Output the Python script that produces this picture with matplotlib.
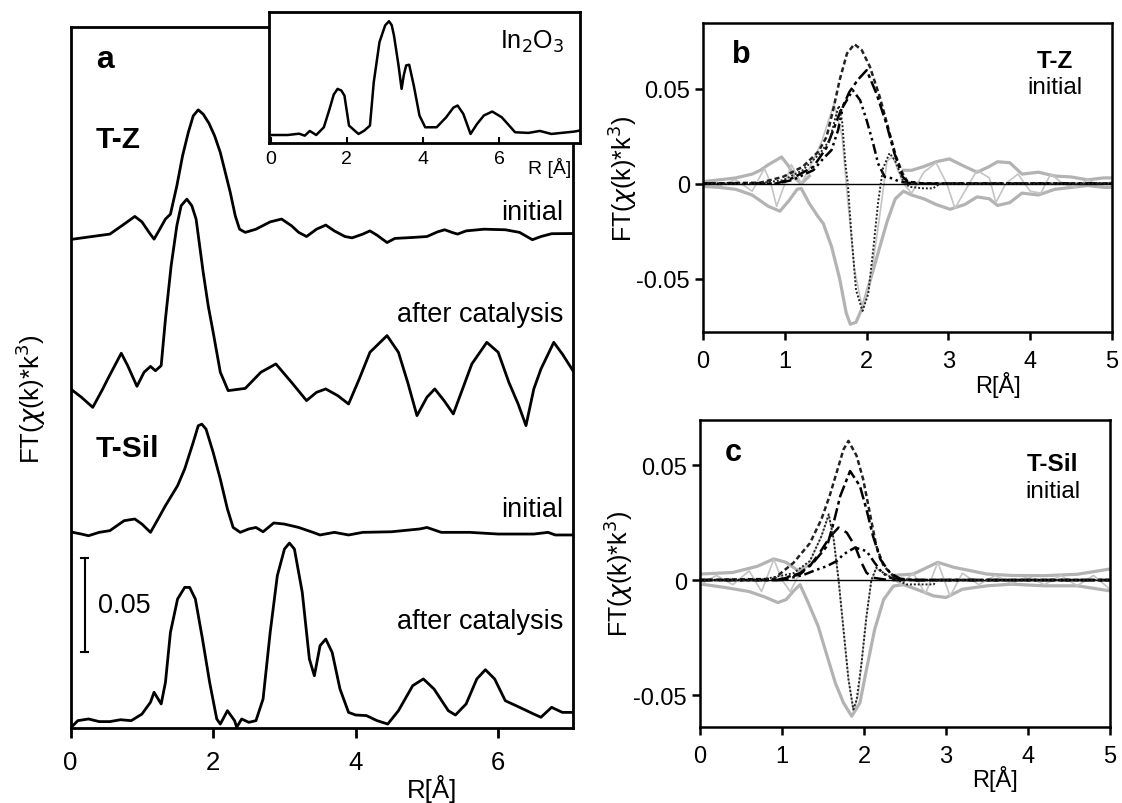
import numpy as np
import matplotlib
matplotlib.use("Agg")
import matplotlib.pyplot as plt

plt.rcParams['font.family'] = ['Liberation Sans', 'DejaVu Sans']

# ---- panel a: FT magnitudes (values relative to each trace's baseline) ----
tz_init_r = [0.03, 0.3, 0.55, 0.75, 0.9, 1.0, 1.1, 1.17, 1.25, 1.33, 1.4, 1.49, 1.57, 1.65, 1.72, 1.79,
             1.86, 1.94, 2.02, 2.1, 2.17, 2.24, 2.31, 2.37, 2.45, 2.6, 2.8, 2.96, 3.1, 3.2, 3.31, 3.45,
             3.58, 3.7, 3.85, 3.95, 4.1, 4.2, 4.3, 4.44, 4.55, 4.8, 5.0, 5.15, 5.25, 5.35, 5.43, 5.55,
             5.8, 6.1, 6.3, 6.48, 6.6, 6.75, 7.05]
tz_init = [-0.0009, 0.0005, 0.0018, 0.0071, 0.0112, 0.0083, 0.0027, -0.0009, 0.0044, 0.0098, 0.0124,
           0.0275, 0.0434, 0.0558, 0.0647, 0.0679, 0.0656, 0.0608, 0.0541, 0.0452, 0.0346, 0.0239,
           0.0115, 0.0044, 0.0027, 0.0044, 0.0083, 0.0098, 0.0062, 0.0027, 0.0005, 0.0044, 0.0066,
           0.0035, 0.0005, -0.0002, 0.0018, 0.0035, 0.0012, -0.0027, -0.0005, 0.0, 0.0005, 0.0030,
           0.0041, 0.0027, 0.0018, 0.0035, 0.0044, 0.0041, 0.0027, -0.0012, 0.0005, 0.0020, 0.0021]

tz_cat_r = [0.03, 0.15, 0.31, 0.45, 0.52, 0.71, 0.8, 0.93, 1.03, 1.12, 1.19, 1.27, 1.33, 1.41, 1.49,
            1.55, 1.63, 1.7, 1.76, 1.86, 1.93, 2.0, 2.1, 2.21, 2.45, 2.67, 2.88, 3.1, 3.31, 3.45, 3.58,
            3.75, 3.9, 4.05, 4.2, 4.44, 4.6, 4.73, 4.86, 5.0, 5.11, 5.24, 5.37, 5.5, 5.63, 5.84, 6.0,
            6.15, 6.28, 6.39, 6.5, 6.6, 6.78, 6.9, 7.05]
tz_cat = [0.0, -0.0035, -0.0089, 0.0009, 0.0062, 0.0199, 0.0133, 0.0023, 0.0098, 0.0129, 0.0106,
          0.0133, 0.0381, 0.0665, 0.0878, 0.0984, 0.1019, 0.0984, 0.0913, 0.0629, 0.0452, 0.0310,
          0.0098, 0.0, 0.0012, 0.0098, 0.0142, 0.0044, -0.0053, -0.0009, 0.0009, -0.0027, -0.0071,
          0.0062, 0.0204, 0.0293, 0.0204, 0.0044, -0.0133, -0.0035, 0.0009, -0.0053, -0.0124, 0.0009,
          0.0142, 0.0257, 0.0204, 0.0044, -0.0071, -0.0186, 0.0009, 0.0115, 0.0257, 0.0195, 0.0106]

ts_init_r = [0.03, 0.15, 0.25, 0.4, 0.55, 0.75, 0.9, 1.0, 1.12, 1.2, 1.33, 1.5, 1.6, 1.72, 1.79, 1.84,
             1.9, 2.0, 2.1, 2.2, 2.28, 2.38, 2.5, 2.6, 2.7, 2.85, 3.0, 3.2, 3.4, 3.5, 3.7, 3.9, 4.1,
             4.5, 4.9, 5.0, 5.2, 5.6, 6.0, 6.5, 6.7, 6.8, 7.05]
ts_init = [0.0009, 0.0, -0.0009, 0.0009, 0.0018, 0.0071, 0.0080, 0.0053, 0.0009, 0.0062, 0.0151,
           0.0257, 0.0346, 0.0488, 0.0576, 0.0585, 0.0558, 0.0434, 0.0292, 0.0133, 0.0035, 0.0009,
           0.0027, 0.0035, 0.0012, 0.0059, 0.0053, 0.0035, 0.0009, -0.0005, 0.0009, -0.0005, 0.0009,
           0.0012, 0.0027, 0.0035, 0.0009, 0.0009, 0.0, 0.0, 0.0009, -0.0005, -0.0005]

ts_cat_r = [0.03, 0.1, 0.25, 0.4, 0.55, 0.7, 0.85, 1.0, 1.12, 1.17, 1.27, 1.33, 1.4, 1.5, 1.6, 1.67,
            1.75, 1.85, 1.95, 2.05, 2.1, 2.2, 2.3, 2.33, 2.4, 2.5, 2.6, 2.7, 2.8, 2.9, 3.0, 3.07, 3.14,
            3.25, 3.35, 3.42, 3.5, 3.58, 3.67, 3.78, 3.9, 4.0, 4.15, 4.3, 4.45, 4.6, 4.8, 4.95, 5.1,
            5.3, 5.4, 5.55, 5.7, 5.82, 5.95, 6.1, 6.3, 6.5, 6.6, 6.75, 6.9, 7.05]
ts_cat = [0.0012, 0.0039, 0.0048, 0.0034, 0.0034, 0.0044, 0.0039, 0.0074, 0.0137, 0.0190, 0.0128,
          0.0243, 0.0509, 0.0686, 0.0748, 0.0748, 0.0686, 0.0473, 0.0243, 0.0048, 0.0021, 0.0092,
          0.0039, 0.0004, 0.0048, 0.0030, 0.0039, 0.0154, 0.0509, 0.0810, 0.0952, 0.0984, 0.0952,
          0.0722, 0.0367, 0.0278, 0.0438, 0.0473, 0.0402, 0.0207, 0.0083, 0.0069, 0.0066, 0.0039,
          0.0021, 0.0092, 0.0225, 0.0261, 0.0207, 0.0092, 0.0069, 0.0128, 0.0261, 0.0310, 0.0261,
          0.0145, 0.0110, 0.0074, 0.0057, 0.0110, 0.0083, 0.0083]

offset_tz_init = 0.261
offset_tz_cat = 0.1795
offset_ts_init = 0.1032
offset_ts_cat = 0.0

# ---- inset: In2O3 reference (normalised) ----
ref_r = [0.0, 0.45, 0.75, 0.9, 1.03, 1.2, 1.4, 1.55, 1.66, 1.76, 1.86, 1.94, 2.06, 2.21, 2.31, 2.46,
         2.61, 2.71, 2.86, 3.01, 3.11, 3.18, 3.24, 3.36, 3.44, 3.5, 3.56, 3.64, 3.76, 3.91, 4.06,
         4.36, 4.61, 4.8, 4.91, 5.06, 5.25, 5.42, 5.6, 5.82, 6.07, 6.42, 6.77, 7.07, 7.37, 7.97, 8.1]
ref_ft = [0.061, 0.061, 0.071, 0.056, 0.092, 0.061, 0.12, 0.26, 0.37, 0.413, 0.40, 0.362, 0.133,
          0.094, 0.069, 0.094, 0.133, 0.464, 0.77, 0.898, 0.929, 0.90, 0.821, 0.592, 0.413, 0.52,
          0.592, 0.597, 0.439, 0.209, 0.12, 0.12, 0.196, 0.27, 0.286, 0.222, 0.069, 0.145, 0.21,
          0.24, 0.196, 0.082, 0.077, 0.092, 0.069, 0.087, 0.094]

# ---- panel b: T-Z initial, experiment (grey) and fit (black) ----
b_low_r = [0, 0.2, 0.4, 0.6, 0.7, 0.8, 0.94, 1.05, 1.15, 1.2, 1.3, 1.4, 1.47, 1.57, 1.67, 1.75, 1.8,
           1.87, 1.95, 2.05, 2.15, 2.25, 2.35, 2.45, 2.55, 2.7, 2.85, 3.02, 3.2, 3.35, 3.5, 3.6, 3.75,
           3.9, 4.1, 4.3, 4.5, 4.7, 4.9, 5.0]
b_low = [-0.0015, -0.002, -0.003, -0.006, -0.009, -0.012, -0.0145, -0.009, -0.003, -0.0025, -0.0105,
         -0.017, -0.021, -0.033, -0.05, -0.068, -0.074, -0.073, -0.065, -0.05, -0.035, -0.02, -0.008,
         -0.004, -0.006, -0.008, -0.011, -0.0135, -0.011, -0.007, -0.008, -0.0115, -0.01, -0.005,
         -0.006, -0.003, -0.002, -0.001, -0.002, -0.002]
b_up_r = [0, 0.2, 0.4, 0.6, 0.7, 0.8, 0.96, 1.05, 1.12, 1.2, 1.3, np.nan, 2.45, 2.55, 2.7, 2.85,
          3.01, 3.2, 3.35, 3.5, 3.6, 3.75, 3.9, 4.1, 4.3, 4.5, 4.7, 4.9, 5.0]
b_up = [0.001, 0.002, 0.003, 0.005, 0.007, 0.01, 0.014, 0.009, 0.003, 0.0, 0.004, np.nan, 0.007,
        0.007, 0.009, 0.0115, 0.013, 0.009, 0.006, 0.009, 0.0115, 0.011, 0.005, 0.006, 0.004, 0.0035,
        0.002, 0.003, 0.003]
b_im_r = [0, 0.2, 0.4, 0.6, 0.75, 0.83, 0.9, 1.0, 1.08, 1.2, 1.3, 1.45, 1.6, 1.7, 1.75, 1.85, 1.95,
          2.05, 2.15, 2.25, 2.32, 2.45, 2.55, 2.7, 2.85, 2.98, 3.08, 3.2, 3.35, 3.5, 3.58, 3.7, 3.85,
          4.0, 4.13, 4.25, 4.4, 4.55, 4.7, 4.85, 5.0]
b_im = [0.001, -0.001, 0.002, -0.004, 0.008, 0.0, -0.012, 0.0, 0.01, 0.0, 0.008, 0.022, 0.042, 0.025,
        0.0, -0.045, -0.066, -0.05, -0.02, 0.012, 0.014, 0.0, -0.005, 0.006, 0.011, 0.0, -0.013,
        -0.004, 0.007, 0.003, -0.01, 0.0, 0.005, -0.004, -0.005, 0.005, 0.0, -0.002, 0.002, -0.001,
        0.001]
b_fit_r = [0, 0.7, 0.98, 1.22, 1.41, 1.51, 1.59, 1.67, 1.76, 1.85, 1.94, 2.04, 2.16, 2.26, 2.36,
           2.44, 2.5, 2.7, 5.0]
b_fit = [0, 0.0005, 0.0036, 0.0089, 0.0168, 0.0246, 0.0387, 0.0545, 0.0685, 0.0734, 0.0703, 0.0615,
         0.0457, 0.0299, 0.0141, 0.0053, 0.001, 0, 0]
b_sh1_r = [0, 0.9, 1.1, 1.35, 1.51, 1.67, 1.79, 1.89, 2.0, 2.12, 2.24, 2.34, 2.44, 2.5, 2.7, 5.0]
b_sh1 = [0, 0, 0.003, 0.0089, 0.019, 0.037, 0.0483, 0.0545, 0.0597, 0.0474, 0.0317, 0.0159, 0.0036,
         0.001, 0, 0]
b_sh2_r = [0, 0.9, 1.1, 1.35, 1.47, 1.57, 1.65, 1.71, 1.83, 1.92, 2.0, 2.08, 2.14, 2.22, 2.32, 2.4,
           2.6, 5.0]
b_sh2 = [0, 0, 0.002, 0.0071, 0.0132, 0.0176, 0.028, 0.0404, 0.0492, 0.0439, 0.0334, 0.0211,
         0.0106, 0.0036, 0.0027, 0.001, 0, 0]
b_imfit_r = [0, 0.5, 0.7, 0.98, 1.22, 1.43, 1.55, 1.62, 1.66, 1.7, 1.74, 1.77, 1.81, 1.87, 1.95,
             2.02, 2.08, 2.14, 2.2, 2.28, 2.35, 2.44, 2.52, 2.7, 2.81, 2.9, 5.0]
b_imfit = [0, 0, 0.0003, 0.0018, 0.0071, 0.0159, 0.023, 0.035, 0.041, 0.033, 0.0106, 0.0, -0.0245,
           -0.056, -0.067, -0.058, -0.035, -0.01, 0.008, 0.016, 0.012, 0.002, -0.0017, -0.0025,
           -0.0025, 0, 0]

# ---- panel c: T-Sil initial ----
c_low_r = [0, 0.3, 0.6, 0.8, 0.95, 1.05, 1.14, 1.22, 1.32, 1.44, 1.55, 1.65, 1.75, 1.85, 1.95, 2.03,
           2.13, 2.24, 2.36, 2.48, 2.64, 2.85, 3.0, 3.2, 3.5, 3.8, 4.2, 4.6, 5.0]
c_low = [-0.0017, -0.0032, -0.005, -0.0075, -0.0098, -0.0085, -0.0048, -0.002, -0.0099, -0.02,
         -0.033, -0.0447, -0.0534, -0.0592, -0.0534, -0.0389, -0.0215, -0.0084, -0.0026, -0.002,
         -0.004, -0.0069, -0.0076, -0.004, -0.0025, -0.0018, -0.0025, -0.0025, -0.0047]
c_up_r = [0, 0.4, 0.7, 0.9, 1.05, 1.2, 1.3, np.nan, 2.35, 2.6, 2.9, 3.1, 3.5, 3.8, 4.2, 4.6, 5.0]
c_up = [0.0026, 0.0033, 0.006, 0.0092, 0.0077, 0.004, 0.006, np.nan, 0.002, 0.0026, 0.0077, 0.0055,
        0.0026, 0.002, 0.0019, 0.0025, 0.0048]
c_im_r = [0, 0.2, 0.4, 0.6, 0.75, 0.9, 1.0, 1.1, 1.2, 1.34, 1.48, 1.57, 1.63, 1.69, 1.75, 1.81, 1.87,
          1.93, 1.97, 2.03, 2.09, 2.15, 2.3, 2.45, 2.6, 2.75, 2.9, 3.05, 3.2, 3.4, 3.6, 3.8, 4.0,
          4.2, 4.4, 4.6, 4.8, 5.0]
c_im = [-0.002, 0.002, -0.002, 0.004, -0.005, 0.009, 0.0, -0.005, 0.002, 0.008, 0.019, 0.028, 0.018,
        0.0, -0.022, -0.043, -0.057, -0.05, -0.036, -0.016, 0.0, 0.005, 0.002, -0.002, 0.003,
        -0.006, 0.0077, -0.007, 0.003, -0.002, 0.002, -0.0015, 0.0015, -0.002, 0.002, -0.0025,
        0.002, -0.004]
c_fit_r = [0, 0.9, 1.14, 1.34, 1.48, 1.58, 1.69, 1.75, 1.81, 1.91, 1.99, 2.07, 2.15, 2.24, 2.36,
           2.44, 2.6, 5.0]
c_fit = [0, 0.0005, 0.0075, 0.016, 0.0264, 0.0365, 0.0496, 0.0568, 0.0605, 0.054, 0.0438, 0.0293,
         0.0148, 0.0061, 0.0017, 0.0003, 0, 0]
c_sh1_r = [0, 0.95, 1.22, 1.38, 1.55, 1.63, 1.71, 1.83, 1.95, 2.03, 2.11, 2.2, 2.32, 2.44, 2.6, 5.0]
c_sh1 = [0, 0, 0.003, 0.0075, 0.0148, 0.025, 0.0365, 0.0474, 0.0409, 0.0307, 0.0191, 0.009, 0.003,
         0.0006, 0, 0]
c_sh2_r = [0, 0.95, 1.22, 1.34, 1.46, 1.59, 1.69, 1.79, 1.89, 1.97, 2.03, 2.11, 2.3, 5.0]
c_sh2 = [0, 0, 0.0025, 0.0061, 0.0119, 0.019, 0.0228, 0.0206, 0.0148, 0.0075, 0.0032, 0.001, 0, 0]
c_sh3_r = [0, 1.0, 1.26, 1.38, 1.55, 1.67, 1.75, 1.89, 2.03, 2.13, 2.22, 2.32, 2.5, 5.0]
c_sh3 = [0, 0, 0.0022, 0.0039, 0.0061, 0.0083, 0.0112, 0.0141, 0.0126, 0.0075, 0.0032, 0.001, 0, 0]
c_imfit_r = [0, 0.73, 1.14, 1.34, 1.48, 1.57, 1.63, 1.69, 1.75, 1.81, 1.87, 1.91, 1.97, 2.03, 2.09,
             2.15, 2.26, 2.4, 2.52, 2.85, 2.89, 5.0]
c_imfit = [0, 0, 0.003, 0.0083, 0.019, 0.0286, 0.0177, 0.0, -0.0215, -0.043, -0.0563, -0.052,
           -0.036, -0.0157, 0.0, 0.0054, 0.0025, 0.0, -0.0019, -0.0019, 0, 0]

GREY = '#b3b3b3'
fig = plt.figure(figsize=(11.22, 8.04), dpi=100)

# panel a
ax = fig.add_axes([0.0630, 0.0933, 0.4477, 0.8719])
traces = [(tz_init_r, tz_init, offset_tz_init), (tz_cat_r, tz_cat, offset_tz_cat),
          (ts_init_r, ts_init, offset_ts_init), (ts_cat_r, ts_cat, offset_ts_cat)]
for r, v, off in traces:
    ax.plot(r, np.array(v) + off, color='black', lw=2.0, solid_joinstyle='round')
ax.set_xlim(0, 7.05)
ax.set_ylim(0, 0.373)
ax.set_yticks([])
ax.set_xticks([0, 2, 4, 6])
ax.tick_params(axis='x', labelsize=18.5, width=2, length=7, direction='out', pad=9)
for s in ax.spines.values():
    s.set_linewidth(2)
ax.set_xlabel('R[Å]', fontsize=18.5)
ax.xaxis.set_label_coords(0.72, -0.066)
ax.set_ylabel(r'FT($\chi$(k)*k$^3$)', fontsize=18.5)
ax.yaxis.set_label_coords(-0.045, 0.47)
ax.text(0.05, 0.955, 'a', transform=ax.transAxes, fontsize=23, fontweight='bold', va='center')
ax.text(0.05, 0.84, 'T-Z', transform=ax.transAxes, fontsize=21.5, fontweight='bold', va='center')
ax.text(0.98, 0.736, 'initial', transform=ax.transAxes, fontsize=19.5, ha='right', va='center')
ax.text(0.98, 0.59, 'after catalysis', transform=ax.transAxes, fontsize=19.5, ha='right', va='center')
ax.text(0.05, 0.40, 'T-Sil', transform=ax.transAxes, fontsize=21.5, fontweight='bold', va='center')
ax.text(0.98, 0.313, 'initial', transform=ax.transAxes, fontsize=19.5, ha='right', va='center')
ax.text(0.98, 0.152, 'after catalysis', transform=ax.transAxes, fontsize=19.5, ha='right', va='center')
# scale bar 0.05
bar_x, bar_y0 = 0.2, 0.0405
ax.plot([bar_x, bar_x], [bar_y0, bar_y0 + 0.05], color='black', lw=1.5)
ax.plot([bar_x - 0.05, bar_x + 0.05], [bar_y0, bar_y0], color='black', lw=1.5)
ax.plot([bar_x - 0.05, bar_x + 0.05], [bar_y0 + 0.05, bar_y0 + 0.05], color='black', lw=1.5)
ax.text(0.39, bar_y0 + 0.025, '0.05', fontsize=19.5, va='center')

# inset In2O3
axi = fig.add_axes([0.2394, 0.8209, 0.2771, 0.1630])
axi.set_facecolor('white')
axi.plot(ref_r, ref_ft, color='black', lw=1.8, solid_joinstyle='round')
axi.set_xlim(-0.05, 8.11)
axi.set_ylim(0, 1.0)
axi.set_yticks([])
axi.set_xticks([0, 2, 4, 6])
axi.tick_params(axis='x', labelsize=14, width=1.5, length=4, direction='in', pad=5)
for s in axi.spines.values():
    s.set_linewidth(2)
axi.text(0.95, 0.78, r'In$_2$O$_3$', transform=axi.transAxes, fontsize=18, ha='right', va='center')
axi.text(0.975, -0.18, 'R [Å]', transform=axi.transAxes, fontsize=14, ha='right', va='center')


def fit_panel(axp, low_r, low, up_r, up, im_r, im, fit_r, fit, shells, imfit_r, imfit, ylim, name,
              name_y):
    axp.plot(low_r, low, color=GREY, lw=2.3)
    axp.plot(up_r, up, color=GREY, lw=2.3)
    axp.plot(im_r, im, color='#c4c4c4', lw=1.2)
    axp.axhline(0, color='black', lw=1.0)
    axp.plot(fit_r, fit, color='#222222', lw=1.8, ls=(0, (2, 1.2)))
    for (r, v), st in zip(shells, [(0, (5, 1.5, 1.5, 1.5)), (0, (4, 1.5, 1, 1.5, 1, 1.5)), (0, (5, 2.5))]):
        axp.plot(r, v, color='black', lw=1.8, ls=st)
    axp.plot(imfit_r, imfit, color='#222222', lw=1.4, ls=(0, (1, 1)))
    axp.set_xlim(0, 5)
    axp.set_ylim(*ylim)
    axp.set_xticks([0, 1, 2, 3, 4, 5])
    axp.set_yticks([-0.05, 0, 0.05])
    axp.set_yticklabels(['-0.05', '0', '0.05'])
    axp.tick_params(labelsize=17, width=1.8, length=6, direction='out')
    axp.tick_params(axis='x', pad=7)
    for s in axp.spines.values():
        s.set_linewidth(1.8)
    axp.set_xlabel('R[Å]', fontsize=17)
    axp.xaxis.set_label_coords(0.72, -0.125)
    axp.set_ylabel(r'FT($\chi$(k)*k$^3$)', fontsize=18)
    axp.yaxis.set_label_coords(-0.155, 0.5)
    axp.text(0.86, name_y, name, transform=axp.transAxes, fontsize=17.5, fontweight='bold',
             ha='center', va='center')
    axp.text(0.86, name_y - 0.087, 'initial', transform=axp.transAxes, fontsize=17.5, ha='center',
             va='center')


axb = fig.add_axes([0.6266, 0.5858, 0.3645, 0.3843])
fit_panel(axb, b_low_r, b_low, b_up_r, b_up, b_im_r, b_im, b_fit_r, b_fit,
          [(b_sh1_r, b_sh1), (b_sh2_r, b_sh2)], b_imfit_r, b_imfit, (-0.0781, 0.0845), 'T-Z', 0.88)
axb.text(0.07, 0.9, 'b', transform=axb.transAxes, fontsize=22, fontweight='bold', va='center')

axc = fig.add_axes([0.6239, 0.0945, 0.3654, 0.3822])
fit_panel(axc, c_low_r, c_low, c_up_r, c_up, c_im_r, c_im, c_fit_r, c_fit,
          [(c_sh1_r, c_sh1), (c_sh3_r, c_sh3), (c_sh2_r, c_sh2)], c_imfit_r, c_imfit,
          (-0.0639, 0.0697), 'T-Sil', 0.856)
axc.text(0.06, 0.895, 'c', transform=axc.transAxes, fontsize=22, fontweight='bold', va='center')

fig.savefig('out.png', dpi=100)
